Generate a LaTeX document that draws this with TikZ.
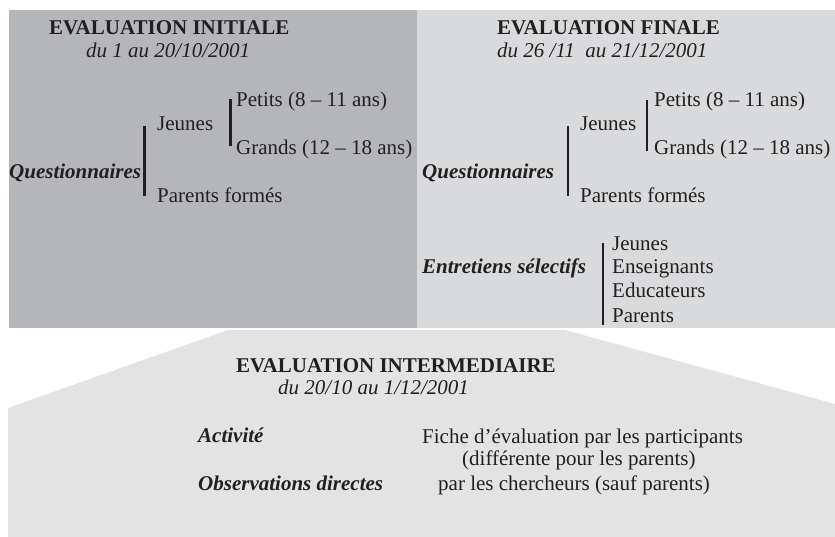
\documentclass[tikz,border=0pt]{standalone}
\usepackage{fontspec}
\setmainfont{Liberation Serif}
\definecolor{paneldark}{HTML}{B5B6BA}
\definecolor{panellight}{HTML}{D9DADC}
\definecolor{pentafill}{HTML}{E3E3E3}
\definecolor{ink}{HTML}{231F20}
\begin{document}
\begin{tikzpicture}[x=1pt,y=-1pt,
  txt/.style={anchor=base west, inner sep=0pt, text=ink,
              font=\fontsize{21}{25}\selectfont},
  ttl/.style={txt, font=\fontsize{21}{25}\selectfont\bfseries},
  sub/.style={txt, font=\fontsize{21}{25}\selectfont\itshape},
  lab/.style={txt, font=\fontsize{21}{25}\selectfont\bfseries\itshape},
  bar/.style={draw=ink, line width=2.6pt}]
  \useasboundingbox (0,0) rectangle (835,537);

  % background panels
  \fill[paneldark]  (9,10) rectangle (417,328);
  \fill[panellight] (417,10) rectangle (835,328);
  \fill[pentafill]  (8,408) -- (228,330) -- (565,330) -- (835,404)
                    -- (835,537) -- (8,537) -- cycle;

  % initial evaluation
  \node[ttl] (t1) at (49,35) {EVALUATION INITIALE};
  \node[sub] (d1) at (86,58) {du 1 au 20/10/2001};
  \node[lab] (q1) at (9,179) {Questionnaires};
  \node[txt] (j1) at (157,131) {Jeunes};
  \node[txt] (p1) at (236,107) {Petits (8 -- 11 ans)};
  \node[txt] (g1) at (236,155) {Grands (12 -- 18 ans)};
  \node[txt] (pf1) at (157,203) {Parents formés};
  \draw[bar] (144.5,126) -- (144.5,196);
  \draw[bar] (230.5,99) -- (230.5,146);

  % final evaluation
  \node[ttl] (t2) at (497,35) {EVALUATION FINALE};
  \node[sub] (d2) at (497,58) {du 26 /11\ \ au 21/12/2001};
  \node[lab] (q2) at (422,179) {Questionnaires};
  \node[txt] (j2) at (580,131) {Jeunes};
  \node[txt] (p2) at (654,107) {Petits (8 -- 11 ans)};
  \node[txt] (g2) at (654,155) {Grands (12 -- 18 ans)};
  \node[txt] (pf2) at (580,203) {Parents formés};
  \draw[bar] (568,126) -- (568,196);
  \draw[bar] (647,100) -- (647,151);

  \node[lab] (es) at (422,274) {Entretiens sélectifs};
  \node[txt] (e1) at (612,251) {Jeunes};
  \node[txt] (e2) at (612,274) {Enseignants};
  \node[txt] (e3) at (612,298) {Educateurs};
  \node[txt] (e4) at (612,322) {Parents};
  \draw[bar] (603,243) -- (603,325);

  % intermediate evaluation
  \node[ttl] (t3) at (236,372) {EVALUATION INTERMEDIAIRE};
  \node[sub] (d3) at (278,394) {du 20/10 au 1/12/2001};
  \node[lab] (act) at (198,442) {Activité};
  \node[txt] (fi) at (422,443) {Fiche d’évaluation par les participants};
  \node[txt] (di) at (462,465) {(différente pour les parents)};
  \node[lab] (obs) at (198,490) {Observations directes};
  \node[txt] (ch) at (438,490) {par les chercheurs (sauf parents)};
\end{tikzpicture}
\end{document}
